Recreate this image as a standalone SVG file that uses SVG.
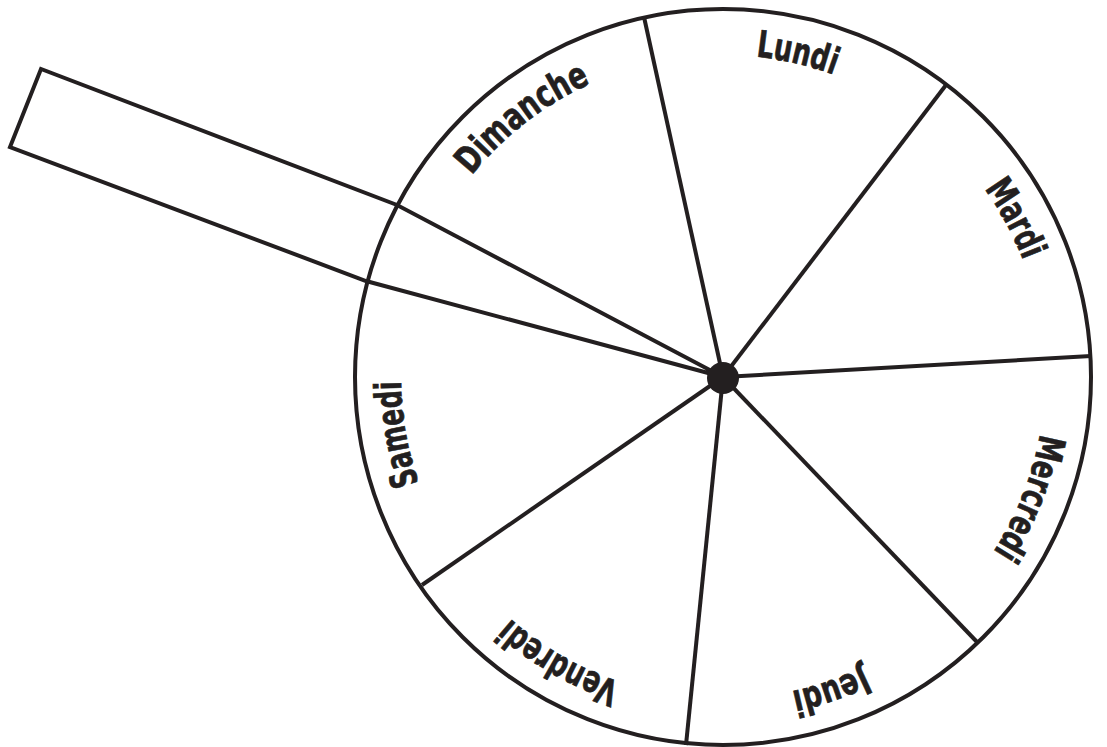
<svg xmlns="http://www.w3.org/2000/svg" xmlns:xlink="http://www.w3.org/1999/xlink" width="1107" height="747" viewBox="0 0 1107 747">
<style>
.ln{fill:none;stroke:#231f20;stroke-width:4;stroke-linejoin:miter;stroke-linecap:butt}
.lbl{font-family:"Liberation Sans Narrow","DejaVu Sans Condensed","Liberation Sans",sans-serif;font-weight:bold;font-size:37px;fill:#231f20;stroke:#231f20;stroke-width:0.7}
</style>
<defs>
<path id="tp" d="M 723 699 A 322 322 0 0 1 723 55 A 322 322 0 0 1 723 699"/>
</defs>
<rect width="1107" height="747" fill="#ffffff"/>
<g id="wheel">
<circle class="ln" cx="723" cy="377" r="368"/>
</g>
<g id="connectors">
<line class="ln" x1="723" y1="377" x2="644" y2="17"/>
<line class="ln" x1="723" y1="377" x2="946" y2="85"/>
<line class="ln" x1="723" y1="377" x2="1091" y2="356"/>
<line class="ln" x1="723" y1="377" x2="977" y2="642"/>
<line class="ln" x1="723" y1="377" x2="686" y2="745"/>
<line class="ln" x1="723" y1="377" x2="422" y2="585"/>
</g>
<g id="pointer">
<polyline class="ln" points="723,377 397,205 41,69 10,147 366,281 723,377"/>
</g>
<g id="hub">
<circle cx="723" cy="378" r="16" fill="#231f20"/>
</g>
<g id="label-lundi"><text class="lbl" transform="rotate(13 723 377)"><textPath xlink:href="#tp" href="#tp" startOffset="50%" text-anchor="middle" textLength="80" lengthAdjust="spacingAndGlyphs">Lundi</textPath></text></g>
<g id="label-mardi"><text class="lbl" transform="rotate(61.5 723 377)"><textPath xlink:href="#tp" href="#tp" startOffset="50%" text-anchor="middle" textLength="82" lengthAdjust="spacingAndGlyphs">Mardi</textPath></text></g>
<g id="label-mercredi"><text class="lbl" transform="rotate(111.5 723 377)"><textPath xlink:href="#tp" href="#tp" startOffset="50%" text-anchor="middle" textLength="128" lengthAdjust="spacingAndGlyphs">Mercredi</textPath></text></g>
<g id="label-jeudi"><text class="lbl" transform="rotate(161 723 377)"><textPath xlink:href="#tp" href="#tp" startOffset="50%" text-anchor="middle" textLength="76" lengthAdjust="spacingAndGlyphs">Jeudi</textPath></text></g>
<g id="label-vendredi"><text class="lbl" transform="rotate(210 723 377)"><textPath xlink:href="#tp" href="#tp" startOffset="50%" text-anchor="middle" textLength="128" lengthAdjust="spacingAndGlyphs">Vendredi</textPath></text></g>
<g id="label-samedi"><text class="lbl" transform="rotate(260 723 377)"><textPath xlink:href="#tp" href="#tp" startOffset="50%" text-anchor="middle" textLength="104" lengthAdjust="spacingAndGlyphs">Samedi</textPath></text></g>
<g id="label-dimanche"><text class="lbl" transform="rotate(-37.8 723 377)"><textPath xlink:href="#tp" href="#tp" startOffset="50%" text-anchor="middle" textLength="152" lengthAdjust="spacingAndGlyphs">Dimanche</textPath></text></g>
</svg>
